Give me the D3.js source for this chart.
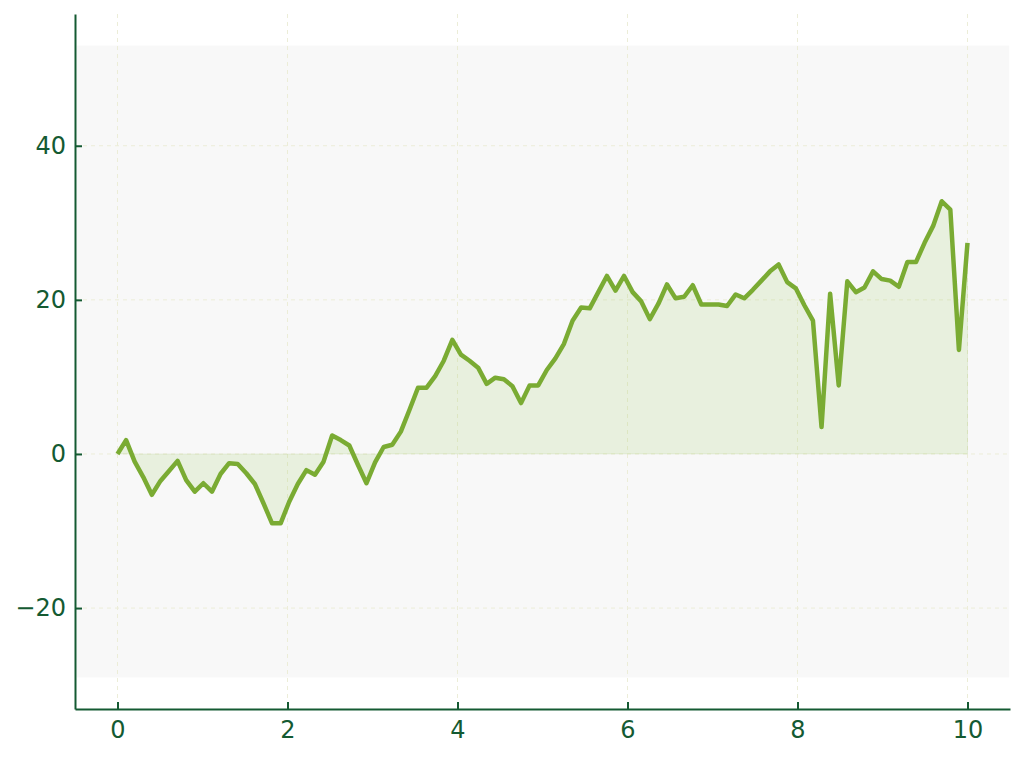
<!DOCTYPE html>
<html>
<head>
<meta charset="utf-8">
<script src="https://cdn.jsdelivr.net/npm/d3@7"></script>
<style>
  body { margin: 0; background: #fff; }
  svg { display: block; font-family: "DejaVu Sans", sans-serif; }
</style>
</head>
<body>
<div id="chart"></div>
<script>
'use strict';

// series, 100 samples evenly spaced over 0..10
let values = [
    0, 1.8, -1.0, -3.0, -5.3, -3.5, -2.2, -0.9, -3.4, -4.9,
    -3.8, -4.9, -2.6, -1.2, -1.3, -2.5, -3.9, -6.4, -9.0, -9.0,
    -6.2, -3.9, -2.1, -2.7, -1.0, 2.4, 1.8, 1.1, -1.4, -3.8,
    -1.1, 0.9, 1.2, 2.9, 5.7, 8.6, 8.6, 10.1, 12.1, 14.8,
    12.9, 12.1, 11.2, 9.1, 9.9, 9.7, 8.8, 6.6, 8.9, 8.9,
    10.9, 12.4, 14.3, 17.3, 19.0, 18.9, 21.0, 23.1, 21.2, 23.1,
    21.0, 19.8, 17.5, 19.5, 22.0, 20.2, 20.4, 21.9, 19.4, 19.4,
    19.4, 19.2, 20.7, 20.2, 21.3, 22.5, 23.7, 24.6, 22.3, 21.5,
    19.3, 17.3, 3.5, 20.8, 8.9, 22.4, 21.0, 21.6, 23.7, 22.7,
    22.5, 21.7, 24.9, 24.9, 27.4, 29.6, 32.8, 31.7, 13.5, 27.4
];
let x_start = 0, x_end = 10;
let x_ticks = [0, 2, 4, 6, 8, 10];
let y_ticks = [-20, 0, 20, 40];
let band_y = [-29, 53];   // grey band behind the series

let xs = values.map(function(d, i) { return x_start + i * (x_end - x_start) / (values.length - 1); });
let data = values.map(function(v, i) { return {x: xs[i], y: v}; });

let width = 1024, height = 757;
let margin = {left: 75, right: 14, top: 14, bottom: 48};
let line_col = '#7aab33', ink = '#145a32';

let svg = d3.select('#chart').append('svg')
    .attr('width', width)
    .attr('height', height);

let x = d3.scaleLinear().domain([-0.5, 10.5]).range([margin.left, width - margin.right]);
let y = d3.scaleLinear().domain([-33.1, 57.1]).range([height - margin.bottom, margin.top]);

// grey band
svg.append('rect')
    .attr('x', x(-0.48))
    .attr('y', y(band_y[1]))
    .attr('width', x(10.49) - x(-0.48))
    .attr('height', y(band_y[0]) - y(band_y[1]))
    .attr('fill', '#f8f8f8');

// dashed grid
let grid = svg.append('g').attr('stroke', '#ecedd8').attr('stroke-width', 1).attr('stroke-dasharray', '4,4');
x_ticks.forEach(function(t) {
    grid.append('line').attr('x1', x(t)).attr('x2', x(t)).attr('y1', y.range()[1]).attr('y2', y.range()[0]);
});
y_ticks.forEach(function(t) {
    grid.append('line').attr('x1', x.range()[0]).attr('x2', x.range()[1]).attr('y1', y(t)).attr('y2', y(t));
});

// fill between series and zero
let area = d3.area()
    .x(function(d) { return x(d.x); })
    .y0(y(0))
    .y1(function(d) { return y(d.y); });
svg.append('path')
    .datum(data)
    .attr('d', area)
    .attr('fill', '#8fc04a')
    .attr('fill-opacity', 0.15)
    .attr('stroke', line_col)
    .attr('stroke-opacity', 0.1)
    .attr('stroke-width', 1);

let line = d3.line()
    .x(function(d) { return x(d.x); })
    .y(function(d) { return y(d.y); });
svg.append('path')
    .datum(data)
    .attr('d', line)
    .attr('fill', 'none')
    .attr('stroke', line_col)
    .attr('stroke-width', 4.5)
    .attr('stroke-linejoin', 'round');

// axes, ticks pointing inwards
let xaxis = svg.append('g')
    .attr('transform', 'translate(0,' + y.range()[0] + ')')
    .call(d3.axisBottom(x).tickValues(x_ticks).tickSize(-7).tickPadding(12).tickSizeOuter(0));
let yaxis = svg.append('g')
    .attr('transform', 'translate(' + x.range()[0] + ',0)')
    .call(d3.axisLeft(y).tickValues(y_ticks).tickSize(-7).tickPadding(9).tickSizeOuter(0)
        .tickFormat(function(d) { return d < 0 ? '\u2212' + Math.abs(d) : d; }));

[xaxis, yaxis].forEach(function(a) {
    a.select('.domain').attr('stroke', ink).attr('stroke-width', 2);
    a.selectAll('.tick line').attr('stroke', ink).attr('stroke-width', 2);
    a.selectAll('.tick text')
        .attr('fill', ink)
        .style('font-size', '24px')
        .style('font-family', '"DejaVu Sans", sans-serif');
});
xaxis.selectAll('.tick text').attr('dy', '0.71em');
</script>
</body>
</html>
